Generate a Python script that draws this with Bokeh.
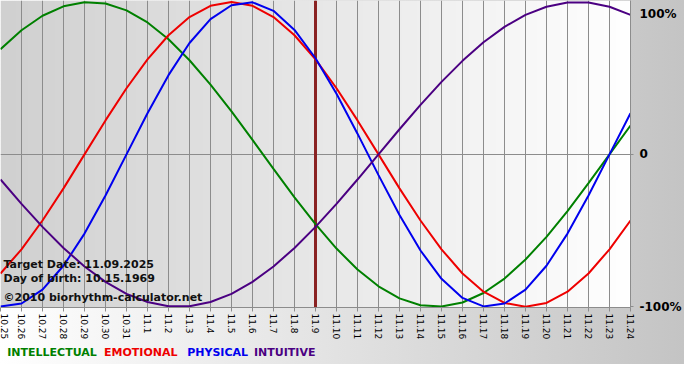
import math
import numpy as np
from bokeh.plotting import figure
from bokeh.layouts import column
from bokeh.models import Range1d, FixedTicker, LinearAxis, Label, Span
from bokeh.core.properties import value
from bokeh.embed import file_html
from bokeh.resources import INLINE

# ---- data (daily values, -1 .. 1) ----
dates = ["10.25", "10.26", "10.27", "10.28", "10.29", "10.30", "10.31",
         "11.1", "11.2", "11.3", "11.4", "11.5", "11.6", "11.7", "11.8", "11.9",
         "11.10", "11.11", "11.12", "11.13", "11.14", "11.15", "11.16", "11.17",
         "11.18", "11.19", "11.20", "11.21", "11.22", "11.23", "11.24"]

intellectual = [0.690, 0.815, 0.910, 0.972, 0.999, 0.990, 0.945, 0.866, 0.756, 0.618,
                0.458, 0.282, 0.095, -0.095, -0.282, -0.458, -0.618, -0.756, -0.866,
                -0.945, -0.990, -0.999, -0.972, -0.910, -0.815, -0.690, -0.541, -0.372,
                -0.189, 0.000, 0.189]
emotional = [-0.782, -0.623, -0.434, -0.223, 0.000, 0.223, 0.434, 0.623, 0.782, 0.901,
             0.975, 1.000, 0.975, 0.901, 0.782, 0.623, 0.434, 0.223, 0.000, -0.223,
             -0.434, -0.623, -0.782, -0.901, -0.975, -1.000, -0.975, -0.901, -0.782,
             -0.623, -0.434]
physical = [-0.998, -0.979, -0.888, -0.731, -0.520, -0.270, 0.000, 0.270, 0.520, 0.731,
            0.888, 0.979, 0.998, 0.942, 0.817, 0.631, 0.398, 0.136, -0.136, -0.398,
            -0.631, -0.817, -0.942, -0.998, -0.979, -0.888, -0.731, -0.520, -0.270,
            0.000, 0.270]
intuitive = [-0.165, -0.325, -0.476, -0.614, -0.736, -0.837, -0.916, -0.969, -0.997,
             -0.997, -0.969, -0.916, -0.837, -0.736, -0.614, -0.476, -0.325, -0.165,
             0.000, 0.165, 0.325, 0.476, 0.614, 0.736, 0.837, 0.916, 0.969, 0.997,
             0.997, 0.969, 0.916]

series_names = ["INTELLECTUAL", "EMOTIONAL", "PHYSICAL", "INTUITIVE"]
target_index = 15
target_date = "11.09.2025"
birth_date = "10.15.1969"
right_labels = ["100%", "0", "-100%"]

# ---- styles ----
GREEN, RED, BLUE, PURPLE = "#008000", "#ee0000", "#0000ee", "#4b0082"
COLORS = [GREEN, RED, BLUE, PURPLE]
GRID = "#8c8c8c"
FONT = "DejaVu Sans"
BG = {"background": "linear-gradient(to right, #ffffff 0%, #c4c4c4 100%)"}
W = 684
LEGEND_X = [0.32, 4.93, 8.89, 12.07]   # legend text starts, in day units

x = list(range(len(dates)))
Y0, Y1 = -1.005, 1.01
TOP_LABEL_POS = 0.922   # where the "100%" text sits (just under the top edge)

p = figure(width=W, height=342, x_range=Range1d(0, len(dates) - 1),
           y_range=Range1d(Y0, Y1), output_backend="svg", toolbar_location=None,
           y_axis_location=None, min_border_left=0, min_border_top=0,
           min_border_right=48, min_border_bottom=34)
p.outline_line_color = None
p.border_fill_alpha = 0
p.background_fill_alpha = 0
p.styles = BG

# plot-area gradient background
N = 256
shade = np.linspace(0xd0, 0xff, N).astype(np.uint32)
img = ((0xff << 24) | (shade << 16) | (shade << 8) | shade).astype(np.uint32).reshape(1, N)
p.image_rgba(image=[img], x=0, y=Y0, dw=len(dates) - 1, dh=Y1 - Y0, level="image")

# grid
p.xgrid.ticker = FixedTicker(ticks=x)
p.xgrid.grid_line_color = GRID
p.ygrid.ticker = FixedTicker(ticks=[0])
p.ygrid.grid_line_color = GRID

# x axis
xa = p.xaxis[0]
xa.ticker = FixedTicker(ticks=x)
xa.major_label_overrides = {i: d for i, d in zip(x, dates)}
xa.major_label_orientation = -math.pi / 2
xa.major_label_text_font = FONT
xa.major_label_text_font_size = "9px"
xa.major_label_text_color = "#000000"
xa.axis_line_color = GRID
xa.major_tick_line_color = GRID
xa.major_tick_out = 4
xa.major_tick_in = 0
xa.minor_tick_out = 0
xa.minor_tick_in = 0
xa.major_label_standoff = 2

# right axis: labels via major ticks (no marks), small marks via minor ticks at 0 and -1
rticks = [TOP_LABEL_POS, 0, -1]
ra = LinearAxis(ticker=FixedTicker(ticks=rticks, minor_ticks=[0, -1]),
                major_label_overrides={t: s for t, s in zip(rticks, right_labels)})
ra.axis_line_color = GRID
ra.major_tick_out = 0
ra.major_tick_in = 0
ra.minor_tick_line_color = GRID
ra.minor_tick_out = 3
ra.minor_tick_in = 0
ra.major_label_standoff = 6
ra.major_label_text_font = FONT
ra.major_label_text_font_style = "bold"
ra.major_label_text_font_size = "12px"
ra.major_label_text_color = "#000000"
p.add_layout(ra, "right")

# target date line
p.add_layout(Span(location=target_index, dimension="height", line_color="#8a2222",
                  line_width=3, level="underlay"))

# curves
for vals, col in zip([intellectual, emotional, physical, intuitive], COLORS):
    p.line(x, vals, line_color=col, line_width=2)

# info texts
for txt, yy in [("Target Date: " + target_date, -0.72),
                ("Day of birth: " + birth_date, -0.815),
                ("\u00a92010 biorhythm-calculator.net", -0.94)]:
    p.add_layout(Label(x=0, y=yy, x_offset=3, text=txt, text_font=FONT,
                       text_font_style="bold", text_font_size="11px",
                       text_baseline="middle", text_color="#111111"))

# legend row (separate strip below the chart; frame aligned with the chart's frame)
lg = figure(width=W, height=22, x_range=Range1d(0, len(dates) - 1), y_range=Range1d(0, 1),
            output_backend="svg", toolbar_location=None,
            x_axis_location=None, y_axis_location=None,
            min_border_left=0, min_border_right=48, min_border_top=0, min_border_bottom=0)
lg.outline_line_color = None
lg.border_fill_alpha = 0
lg.background_fill_alpha = 0
lg.grid.visible = False
lg.styles = BG
lg.text(x=LEGEND_X, y=[0.55] * 4, text=series_names, text_color=COLORS,
        text_font=value(FONT), text_font_style="bold", text_font_size="11px",
        text_baseline="middle", text_align="left")

layout = column(p, lg, spacing=0)
open("out.html", "w").write(file_html(layout, INLINE))
